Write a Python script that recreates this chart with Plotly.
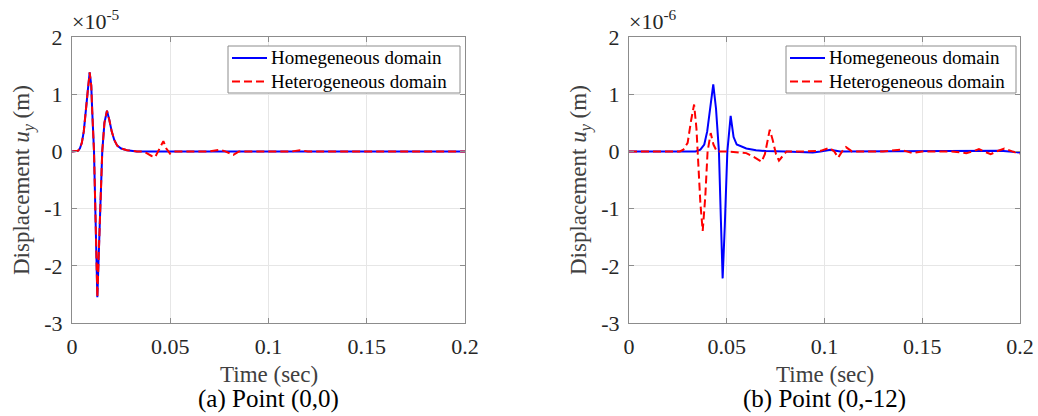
import plotly.graph_objects as go

# ---------------- data (displacement in units of 1e-5 m for (a), 1e-6 m for (b)) ----------------
time_a_hom = [0, 0.002, 0.003, 0.004, 0.005, 0.006, 0.007, 0.008, 0.009, 0.0098, 0.0103, 0.0112,
              0.012, 0.0129, 0.0141, 0.0154, 0.0165, 0.0178, 0.019, 0.0202, 0.0215, 0.023, 0.025,
              0.028, 0.033, 0.05, 0.1, 0.15, 0.2]
disp_a_hom = [0, 0, 0.01, 0.05, 0.15, 0.35, 0.65, 1.05, 1.38, 1.15, 0.7, 0.0,
              -1.2, -2.55, -1.3, 0.0, 0.5, 0.71, 0.55, 0.35, 0.2, 0.1, 0.05,
              0.02, 0.0, 0.0, 0.0, 0.0, 0.0]

time_a_het = [0, 0.002, 0.003, 0.004, 0.005, 0.006, 0.007, 0.008, 0.009, 0.0098, 0.0103, 0.0112,
              0.012, 0.0129, 0.0141, 0.0154, 0.0165, 0.0178, 0.019, 0.0202, 0.0215, 0.023, 0.025,
              0.028, 0.033, 0.036, 0.038, 0.0405, 0.0423, 0.0445, 0.0465, 0.048, 0.0499, 0.052,
              0.07, 0.0753, 0.078, 0.0821, 0.085, 0.112, 0.116, 0.12, 0.2]
disp_a_het = [0, 0, 0.01, 0.05, 0.15, 0.35, 0.65, 1.05, 1.38, 1.15, 0.7, 0.0,
              -1.2, -2.55, -1.3, 0.0, 0.5, 0.71, 0.55, 0.35, 0.2, 0.1, 0.05,
              0.02, 0.0, 0.0, -0.03, -0.08, -0.1, 0.05, 0.18, 0.05, -0.04, 0.0,
              0.0, 0.03, 0.0, -0.06, 0.0, 0.0, 0.02, 0.0, 0.0]

time_b_hom = [0, 0.034, 0.0365, 0.0385, 0.040, 0.0415, 0.0431, 0.0445, 0.046, 0.047, 0.0479,
              0.049, 0.0503, 0.052, 0.0535, 0.0551, 0.0575, 0.060, 0.065, 0.07, 0.08, 0.09,
              0.094, 0.098, 0.103, 0.108, 0.14, 0.17, 0.19, 0.2]
disp_b_hom = [0, 0, 0.03, 0.12, 0.35, 0.8, 1.17, 0.75, 0.0, -1.2, -2.22,
              -1.3, 0.0, 0.62, 0.25, 0.12, 0.08, 0.05, 0.02, 0.005, 0.0, -0.01,
              -0.02, 0.0, 0.03, 0.0, 0.0, 0.0, 0.01, -0.02]

time_b_het = [0, 0.026, 0.0278, 0.030, 0.0318, 0.0333, 0.0345, 0.0351, 0.0365, 0.0377, 0.039,
              0.0402, 0.0418, 0.0432, 0.0449, 0.05, 0.055, 0.060, 0.064, 0.0678, 0.0695, 0.0708,
              0.072, 0.0735, 0.0752, 0.0767, 0.0785, 0.0806, 0.09, 0.098, 0.1025, 0.105, 0.107,
              0.109, 0.111, 0.114, 0.13, 0.1385, 0.142, 0.145, 0.15, 0.165, 0.1725, 0.176, 0.179,
              0.182, 0.185, 0.188, 0.192, 0.196, 0.2]
disp_b_het = [0, 0, 0.03, 0.15, 0.55, 0.82, 0.4, 0.0, -0.9, -1.39, -0.8,
              0.0, 0.32, 0.12, 0.0, 0.0, -0.01, -0.03, -0.1, -0.18, -0.05, 0.2,
              0.38, 0.2, -0.05, -0.16, -0.08, 0.0, 0.0, 0.01, 0.06, 0.0, -0.11,
              0.0, 0.075, 0.0, 0.0, 0.03, 0.0, -0.03, 0.0, 0.0, -0.03, 0.0, 0.04,
              0.0, -0.05, 0.0, 0.05, 0.0, -0.04]

x_ticks = [0, 0.05, 0.1, 0.15, 0.2]
x_tick_labels = ["0", "0.05", "0.1", "0.15", "0.2"]
y_ticks = [-3, -2, -1, 0, 1, 2]
y_tick_labels = ["-3", "-2", "-1", "0", "1", "2"]

series_names = ["Homegeneous domain", "Heterogeneous domain"]
exponents = ["×10<sup>-5</sup>", "×10<sup>-6</sup>"]
captions = ["(a) Point (0,0)", "(b) Point (0,-12)"]
x_title = "Time (sec)"
y_title = "Displacement <i>u</i><sub><i>y</i></sub> (m)"

# ---------------- figure ----------------
W, H = 1038, 416
FONT = "Liberation Serif"
BLUE = "#0000ff"
RED = "#ff0000"
DASH = "8px,4px"
FRAME = "#8c8c8c"

# pixel geometry of the two axes boxes
boxes = [(72, 465), (629, 1020)]
top_px, bot_px = 37, 323
# legend boxes (left, right) in pixels, top/bottom, row centres
legend_boxes = [(228, 460), (786, 1016)]
leg_top, leg_bot = 46, 93
leg_rows = [58, 81.5]


def px(xp):
    return xp / W


def py(yp):
    return 1 - yp / H


fig = go.Figure()

data_sets = [
    (time_a_hom, disp_a_hom, time_a_het, disp_a_het),
    (time_b_hom, disp_b_hom, time_b_het, disp_b_het),
]

for i, (th, dh, tt, dt) in enumerate(data_sets):
    xa = "x" if i == 0 else "x2"
    ya = "y" if i == 0 else "y2"
    fig.add_trace(go.Scatter(x=th, y=dh, mode="lines", name=series_names[0],
                             line=dict(color=BLUE, width=2), xaxis=xa, yaxis=ya,
                             showlegend=False))
    fig.add_trace(go.Scatter(x=tt, y=dt, mode="lines", name=series_names[1],
                             line=dict(color=RED, width=2, dash=DASH),
                             xaxis=xa, yaxis=ya, showlegend=False))

axis_common = dict(
    showline=True, mirror="ticks", linecolor=FRAME, linewidth=1,
    ticks="inside", ticklen=5, tickcolor=FRAME,
    showgrid=True, gridcolor="#e6e6e6", gridwidth=1, zeroline=False,
    tickfont=dict(family=FONT, size=22, color="#262626"),
    automargin=False,
)

ydom = [py(bot_px), py(top_px)]
for i, (l, r) in enumerate(boxes):
    sfx = "" if i == 0 else "2"
    fig.layout["xaxis" + sfx] = dict(
        axis_common, domain=[px(l), px(r)], range=[0, 0.2], tickvals=x_ticks,
        ticktext=x_tick_labels, anchor="y" + sfx, ticklabelstandoff=4)
    fig.layout["yaxis" + sfx] = dict(
        axis_common, domain=ydom, range=[-3, 2], tickvals=y_ticks,
        ticktext=y_tick_labels, anchor="x" + sfx, ticklabelstandoff=4)

shapes = []
annotations = []
for i, (l, r) in enumerate(boxes):
    cx = px((l + r) / 2)
    annotations.append(dict(text=exponents[i], x=px(l - 2), y=py(36), xref="paper", yref="paper",
                            xanchor="left", yanchor="bottom", showarrow=False,
                            font=dict(family=FONT, size=22, color="#262626")))
    annotations.append(dict(text=x_title, x=cx, y=py(374), xref="paper", yref="paper",
                            xanchor="center", yanchor="middle", showarrow=False,
                            font=dict(family=FONT, size=23, color="#404040")))
    annotations.append(dict(text=captions[i], x=cx, y=py(399), xref="paper", yref="paper",
                            xanchor="center", yanchor="middle", showarrow=False,
                            font=dict(family=FONT, size=25, color="#000000")))
    annotations.append(dict(text=y_title, x=px(l - 49), y=py((top_px + bot_px) / 2),
                            xref="paper", yref="paper", xanchor="center", yanchor="middle",
                            textangle=-90, showarrow=False,
                            font=dict(family=FONT, size=23, color="#404040")))

    # legend (box, line samples, labels)
    bl, br = legend_boxes[i]
    shapes.append(dict(type="rect", xref="paper", yref="paper",
                       x0=px(bl), x1=px(br), y0=py(leg_bot), y1=py(leg_top),
                       line=dict(color=FRAME, width=1), fillcolor="white", layer="above"))
    styles = [dict(color=BLUE, width=2), dict(color=RED, width=2, dash=DASH)]
    for k, name in enumerate(series_names):
        shapes.append(dict(type="line", xref="paper", yref="paper",
                           x0=px(bl + 4), x1=px(bl + 39), y0=py(leg_rows[k]), y1=py(leg_rows[k]),
                           line=styles[k], layer="above"))
        annotations.append(dict(text=name, x=px(bl + 41), y=py(leg_rows[k]),
                                xref="paper", yref="paper", xanchor="left", yanchor="middle",
                                showarrow=False,
                                font=dict(family=FONT, size=19, color="#000000")))

fig.update_layout(
    width=W, height=H, margin=dict(l=0, r=0, t=0, b=0, pad=0),
    paper_bgcolor="white", plot_bgcolor="white",
    annotations=annotations, shapes=shapes, showlegend=False,
)

fig.write_html("out.html", config={"displayModeBar": False},
               post_script="document.body.style.margin='0';document.body.style.overflow='hidden';")
